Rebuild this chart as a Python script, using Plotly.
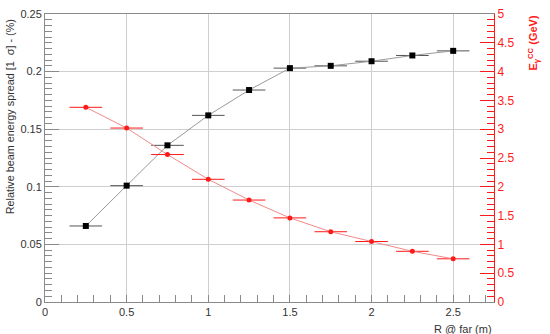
import plotly.graph_objects as go

# Données
r_far = [0.25, 0.5, 0.75, 1.0, 1.25, 1.5, 1.75, 2.0, 2.25, 2.5]
r_err = [0.1] * len(r_far)
spread = [0.066, 0.101, 0.136, 0.162, 0.184, 0.203, 0.205, 0.209, 0.214, 0.218]
e_cc = [3.38, 3.02, 2.56, 2.13, 1.77, 1.46, 1.22, 1.05, 0.88, 0.75]

y_ticks = [0, 0.05, 0.1, 0.15, 0.2, 0.25]
y_ticktext = ["0", "0.05", "0.1", "0.15", "0.2", "0.25"]
y2_ticks = [0, 0.5, 1, 1.5, 2, 2.5, 3, 3.5, 4, 4.5, 5]
y2_ticktext = ["0", "0.5", "1", "1.5", "2", "2.5", "3", "3.5", "4", "4.5", "5"]
x_ticks = [0, 0.5, 1, 1.5, 2, 2.5]
x_ticktext = ["0", "0.5", "1", "1.5", "2", "2.5"]

RED = "#ff1a1a"
GRID = "#cfcfcf"
AXIS = "#8a8a8a"
FONT = "Liberation Sans, Arial, sans-serif"

fig = go.Figure()

fig.add_trace(go.Scatter(
    x=r_far, y=spread, mode="lines+markers",
    line=dict(color="#9a9a9a", width=1),
    marker=dict(symbol="square", size=6, color="black"),
    error_x=dict(type="data", array=r_err, color="#555555", thickness=1, width=0),
    showlegend=False,
))
fig.add_trace(go.Scatter(
    x=r_far, y=e_cc, mode="lines+markers", yaxis="y2",
    line=dict(color="#f28a8a", width=1),
    marker=dict(symbol="circle", size=5, color=RED),
    error_x=dict(type="data", array=r_err, color=RED, thickness=1, width=0),
    showlegend=False,
))

fig.update_layout(
    width=550, height=334,
    autosize=False,
    margin=dict(l=45, r=56, t=14, b=32, pad=0),
    paper_bgcolor="white", plot_bgcolor="white",
    font=dict(family=FONT, size=11, color="#333333"),
    xaxis=dict(
        range=[0, 2.75], tickvals=x_ticks, ticktext=x_ticktext, automargin=False,
        showgrid=True, gridcolor=GRID, zeroline=False,
        showline=True, linecolor=AXIS, mirror=True,
        ticks="inside", ticklen=0, tickcolor=AXIS,
        minor=dict(dtick=0.1, tick0=0, ticks="inside", ticklen=7, tickcolor=AXIS, showgrid=False),
        tickfont=dict(size=11, color="#333333"),
    ),
    yaxis=dict(
        range=[0, 0.25], tickvals=y_ticks, ticktext=y_ticktext, automargin=False,
        showgrid=True, gridcolor=GRID, zeroline=False,
        showline=True, linecolor=AXIS,
        ticks="inside", ticklen=14, tickcolor=AXIS,
        minor=dict(dtick=0.005, tick0=0, ticks="inside", ticklen=7, tickcolor=AXIS, showgrid=False),
        tickfont=dict(size=11, color="#333333"),
    ),
    yaxis3=dict(
        range=[0, 0.25], overlaying="y", side="left", automargin=False,
        tickvals=[0.025, 0.075, 0.125, 0.175, 0.225],
        showticklabels=False, showgrid=False, zeroline=False, showline=False,
        ticks="inside", ticklen=14, tickcolor=AXIS,
    ),
    yaxis2=dict(
        range=[0, 5], overlaying="y", side="right", automargin=False,
        tickvals=y2_ticks, ticktext=y2_ticktext,
        showgrid=False, zeroline=False,
        showline=True, linecolor=RED,
        ticks="inside", ticklen=14, tickcolor=RED,
        minor=dict(dtick=0.1, tick0=0, ticks="inside", ticklen=7, tickcolor=RED),
        tickfont=dict(size=12, color=RED),
    ),
    annotations=[
        dict(text="Relative beam energy spread [1  σ] - (%)", textangle=-90,
             xref="paper", yref="paper", x=-0.076, y=0.99,
             xanchor="center", yanchor="top", showarrow=False,
             font=dict(size=10.8, color="#333333")),
        dict(text="<b>E<sub>γ</sub><sup>CC</sup> (GeV)</b>", textangle=-90,
             xref="paper", yref="paper", x=1.087, y=1.0,
             xanchor="center", yanchor="top", showarrow=False,
             font=dict(size=11, color=RED)),
        dict(text="R @ far (m)", xref="paper", yref="paper", x=1.0, y=-0.065,
             xanchor="right", yanchor="top", showarrow=False,
             font=dict(size=11, color="#333333")),
    ],
)

# la page html a une marge de 8 px par défaut : on la retire
fig.write_html("out.html", config={"displayModeBar": False},
               post_script="document.body.style.margin='0';")
